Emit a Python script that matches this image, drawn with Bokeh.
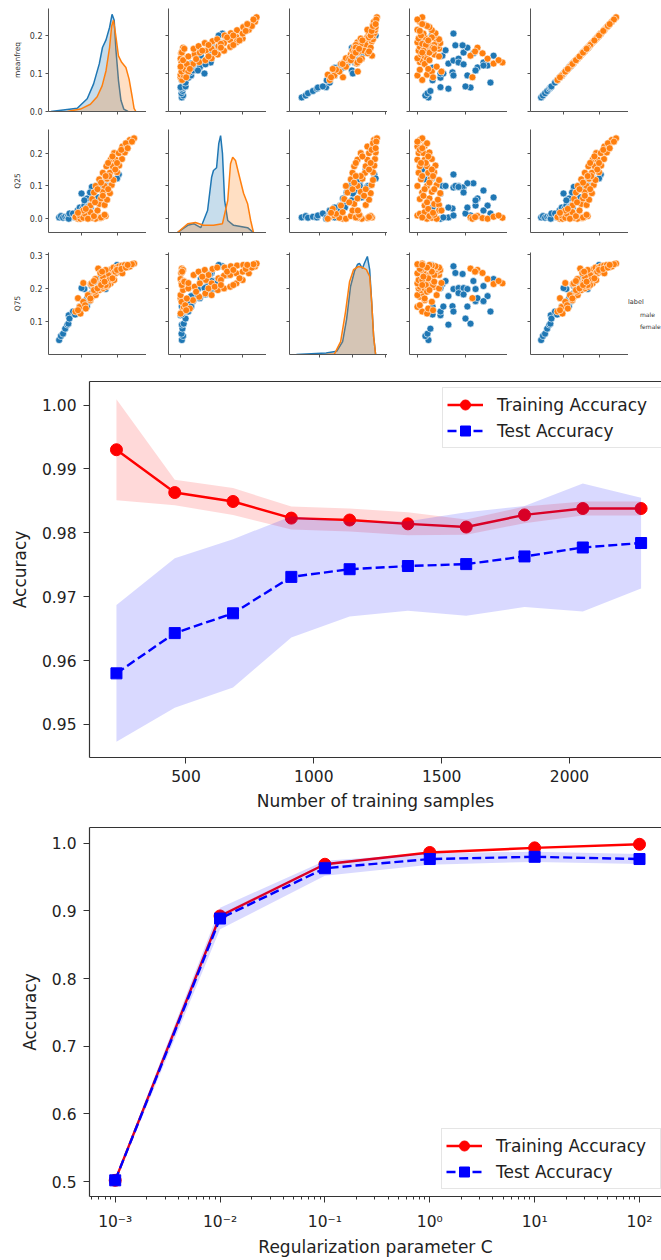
from bokeh.plotting import figure
from bokeh.layouts import column, row
from bokeh.models import (Range1d, FixedTicker, NumeralTickFormatter, Legend, LegendItem,
                          CustomJSTickFormatter, LinearAxis, LogAxis)
from bokeh.embed import file_html
from bokeh.resources import INLINE

FONT = "DejaVu Sans"
BLUE = "#1f77b4"
ORANGE = "#ff7f0e"
SPINE = "#333333"
TEXT = "#222222"

# ---------------- pair plot: records ----------------
male_meanfreq = [0.037, 0.042, 0.048, 0.054, 0.060, 0.063, 0.064, 0.066, 0.076, 0.082,
                 0.089, 0.095, 0.100, 0.103, 0.108, 0.116, 0.121, 0.126, 0.129, 0.134,
                 0.139, 0.147, 0.147, 0.153, 0.155, 0.161, 0.168, 0.174, 0.174, 0.108,
                 0.121, 0.095, 0.100, 0.115, 0.205, 0.200, 0.129, 0.124, 0.180, 0.190, 0.170]
male_q25 = [0.004, 0.008, 0.003, 0.006, 0.004, 0.010, 0.000, 0.016, 0.016, 0.004,
            0.025, 0.034, 0.004, 0.031, 0.040, 0.062, 0.040, 0.034, 0.086, 0.095,
            0.100, 0.100, 0.065, 0.108, 0.095, 0.100, 0.108, 0.100, 0.095, 0.056,
            0.025, 0.010, 0.077, 0.034, 0.135, 0.123, 0.097, 0.080, 0.130, 0.150, 0.120]
male_q75 = [0.046, 0.058, 0.065, 0.080, 0.092, 0.095, 0.120, 0.110, 0.131, 0.122,
            0.131, 0.146, 0.146, 0.147, 0.162, 0.171, 0.177, 0.177, 0.207, 0.198,
            0.201, 0.213, 0.228, 0.222, 0.201, 0.222, 0.198, 0.246, 0.243, 0.198,
            0.162, 0.131, 0.201, 0.146, 0.266, 0.270, 0.186, 0.182, 0.230, 0.240, 0.220]
male_iqr = [0.046, 0.033, 0.042, 0.054, 0.129, 0.221, 0.096, 0.200, 0.304, 0.063,
            0.096, 0.208, 0.108, 0.146, 0.242, 0.250, 0.292, 0.129, 0.275, 0.150,
            0.171, 0.104, 0.317, 0.233, 0.192, 0.117, 0.208, 0.158, 0.188, 0.242,
            0.275, 0.150, 0.096, 0.063, 0.150, 0.060, 0.171, 0.192, 0.040, 0.020, 0.030]

female_meanfreq = [0.125, 0.150, 0.165, 0.130, 0.155, 0.172, 0.135, 0.160, 0.180, 0.140,
                   0.165, 0.185, 0.150, 0.172, 0.190, 0.160, 0.180, 0.200, 0.170, 0.188,
                   0.206, 0.182, 0.196, 0.214, 0.192, 0.205, 0.222, 0.215, 0.228, 0.236, 0.248,
                   0.145, 0.175, 0.155, 0.178, 0.195, 0.175, 0.200, 0.187, 0.212, 0.225,
                   0.242, 0.138, 0.160, 0.168, 0.230,
                   0.147, 0.168, 0.153, 0.139, 0.126, 0.129, 0.135, 0.090, 0.158,
                   0.083, 0.097, 0.095, 0.105, 0.110, 0.118, 0.125, 0.135, 0.145, 0.155,
                   0.165, 0.105, 0.112, 0.090]
female_q25 = [0.040, 0.045, 0.042, 0.060, 0.062, 0.058, 0.080, 0.082, 0.078, 0.100,
              0.100, 0.103, 0.120, 0.122, 0.118, 0.140, 0.140, 0.142, 0.160, 0.160,
              0.162, 0.180, 0.180, 0.182, 0.200, 0.200, 0.202, 0.220, 0.222, 0.240, 0.245,
              0.090, 0.090, 0.110, 0.130, 0.150, 0.170, 0.170, 0.190, 0.210, 0.230,
              0.235, 0.050, 0.070, 0.130, 0.215,
              0.004, 0.008, 0.002, 0.000, 0.006, 0.003, 0.010, 0.000, 0.005,
              0.005, 0.000, 0.010, 0.003, 0.015, 0.000, 0.020, 0.008, 0.025, 0.004,
              0.012, 0.025, 0.030, 0.018]
female_q75 = [0.165, 0.205, 0.240, 0.175, 0.215, 0.250, 0.185, 0.225, 0.255, 0.180,
              0.215, 0.258, 0.195, 0.230, 0.262, 0.200, 0.238, 0.262, 0.205, 0.240,
              0.266, 0.215, 0.245, 0.268, 0.225, 0.250, 0.270, 0.245, 0.262, 0.265, 0.274,
              0.200, 0.240, 0.205, 0.225, 0.250, 0.210, 0.255, 0.230, 0.258, 0.262,
              0.272, 0.190, 0.235, 0.210, 0.270,
              0.259, 0.255, 0.246, 0.228, 0.213, 0.215, 0.222, 0.171, 0.250,
              0.131, 0.125, 0.145, 0.160, 0.150, 0.180, 0.170, 0.195, 0.200, 0.210,
              0.220, 0.216, 0.140, 0.135]
female_iqr = [0.030, 0.070, 0.090, 0.010, 0.050, 0.085, 0.020, 0.060, 0.095, 0.000,
              0.040, 0.080, 0.015, 0.055, 0.090, 0.005, 0.045, 0.070, 0.010, 0.040,
              0.075, 0.000, 0.030, 0.060, 0.005, 0.025, 0.050, 0.000, 0.030, 0.010, 0.020,
              0.030, 0.070, 0.050, 0.020, 0.060, 0.035, 0.015, 0.045, 0.010, 0.040,
              0.000, 0.040, 0.025, 0.065, 0.020,
              0.221, 0.250, 0.271, 0.292, 0.317, 0.354, 0.338, 0.229, 0.240,
              0.020, 0.040, 0.000, 0.060, 0.010, 0.080, 0.030, 0.050, 0.090, 0.020,
              0.070, 0.100, 0.045, 0.065]

# KDE curves (value, density)
kde_meanfreq_male_x = [0.014, 0.088, 0.116, 0.134, 0.150, 0.159, 0.169, 0.179, 0.186, 0.192,
                       0.197, 0.204, 0.211, 0.219, 0.231]
kde_meanfreq_male_d = [0.0, 0.8, 3.2, 6.9, 11.9, 16.0, 17.9, 21.0, 24.3, 22.8,
                       15.3, 7.8, 2.8, 0.6, 0.0]
kde_meanfreq_female_x = [0.060, 0.097, 0.125, 0.144, 0.158, 0.169, 0.179, 0.185, 0.190, 0.196,
                         0.204, 0.213, 0.225, 0.234, 0.243, 0.248, 0.253]
kde_meanfreq_female_d = [0.0, 0.6, 1.8, 3.7, 6.4, 10.2, 16.0, 21.4, 22.8, 19.3,
                         13.9, 12.3, 11.0, 8.1, 3.5, 0.8, 0.0]
kde_q25_male_x = [-0.010, 0.023, 0.042, 0.065, 0.087, 0.100, 0.106, 0.116, 0.123, 0.129,
                  0.135, 0.142, 0.152, 0.171, 0.216, 0.235]
kde_q25_male_d = [0.0, 1.8, 2.2, 1.2, 5.5, 13.8, 15.5, 16.2, 22.2, 24.2,
                  19.8, 8.0, 3.0, 1.8, 1.2, 0.0]
kde_q25_female_x = [-0.010, 0.023, 0.048, 0.074, 0.106, 0.135, 0.152, 0.161, 0.168, 0.177,
                    0.187, 0.203, 0.216, 0.226, 0.235]
kde_q25_female_d = [0.0, 2.2, 2.5, 1.8, 1.8, 2.2, 8.0, 17.2, 18.8, 18.0,
                    14.8, 9.8, 7.2, 3.0, 0.0]
kde_q75_male_x = [0.030, 0.120, 0.152, 0.170, 0.182, 0.194, 0.206, 0.215, 0.221, 0.230,
                  0.236, 0.245, 0.252, 0.258, 0.264, 0.270]
kde_q75_male_d = [0.0, 0.4, 0.8, 3.2, 8.8, 17.0, 20.8, 22.5, 22.8, 21.5,
                  22.8, 24.5, 21.2, 13.2, 4.5, 0.0]
kde_q75_female_x = [0.120, 0.145, 0.164, 0.179, 0.191, 0.203, 0.218, 0.230, 0.242, 0.252,
                    0.258, 0.264, 0.270]
kde_q75_female_d = [0.0, 0.1, 3.2, 10.8, 18.2, 21.2, 22.0, 21.8, 21.2, 19.5,
                    13.2, 4.5, 0.0]

# ---------------- learning curve ----------------
train_sizes = [228, 456, 684, 912, 1140, 1368, 1596, 1824, 2052, 2280]
train_mean = [0.9930, 0.9863, 0.9849, 0.9823, 0.9820, 0.9814, 0.9809, 0.9828, 0.9838, 0.9838]
train_std = [0.0079, 0.0020, 0.0021, 0.0018, 0.0018, 0.0018, 0.0012, 0.0013, 0.0011, 0.0011]
test_mean = [0.9580, 0.9643, 0.9674, 0.9731, 0.9743, 0.9748, 0.9751, 0.9763, 0.9777, 0.9784]
test_std = [0.0107, 0.0117, 0.0116, 0.0095, 0.0074, 0.0070, 0.0081, 0.0079, 0.0100, 0.0071]

# ---------------- validation curve ----------------
param_C = [0.001, 0.01, 0.1, 1.0, 10.0, 100.0]
val_train_mean = [0.502, 0.8926, 0.9690, 0.9864, 0.9932, 0.9985]
val_train_std = [0.002, 0.003, 0.002, 0.001, 0.001, 0.0005]
val_test_mean = [0.502, 0.8888, 0.9631, 0.9767, 0.9800, 0.9767]
val_test_std = [0.003, 0.016, 0.011, 0.0085, 0.0075, 0.0075]

lc_x_ticks = [500, 1000, 1500, 2000]
lc_y_ticks = [0.95, 0.96, 0.97, 0.98, 0.99, 1.00]
vc_x_ticks = [1e-3, 1e-2, 1e-1, 1e0, 1e1, 1e2]
vc_y_ticks = [0.5, 0.6, 0.7, 0.8, 0.9, 1.0]

# ---------------- pair plot build ----------------
pair_data = {
    "male": {"meanfreq": male_meanfreq, "Q25": male_q25, "Q75": male_q75,
             "IQR": male_iqr, "centroid": male_meanfreq},
    "female": {"meanfreq": female_meanfreq, "Q25": female_q25, "Q75": female_q75,
               "IQR": female_iqr, "centroid": female_meanfreq},
}
col_vars = ["meanfreq", "Q25", "Q75", "IQR", "centroid"]
row_vars = ["meanfreq", "Q25", "Q75"]
x_lims = {"meanfreq": (0.007, 0.283), "Q25": (-0.039, 0.277), "Q75": (0.009, 0.306),
          "IQR": (-0.033, 0.375), "centroid": (0.007, 0.283)}
y_lims = {"meanfreq": (0.0, 0.271), "Q25": (-0.042, 0.272), "Q75": (0.003, 0.307)}
x_tick_map = {"meanfreq": [0.1, 0.2], "Q25": [0.0, 0.2], "Q75": [0.1, 0.2, 0.3],
              "IQR": [0.0, 0.2], "centroid": [0.1, 0.2]}
y_tick_map = {"meanfreq": [0.0, 0.1, 0.2], "Q25": [0.0, 0.1, 0.2], "Q75": [0.1, 0.2, 0.3]}
kde_curves = {
    "meanfreq": [(kde_meanfreq_male_x, kde_meanfreq_male_d, BLUE),
                 (kde_meanfreq_female_x, kde_meanfreq_female_d, ORANGE)],
    "Q25": [(kde_q25_male_x, kde_q25_male_d, BLUE), (kde_q25_female_x, kde_q25_female_d, ORANGE)],
    "Q75": [(kde_q75_male_x, kde_q75_male_d, BLUE), (kde_q75_female_x, kde_q75_female_d, ORANGE)],
}
kde_top = {"meanfreq": 25.75, "Q25": 25.75, "Q75": 25.5}
sex_labels = {"male": "male", "female": "female"}

col_w = [146, 120, 121, 120, 121]
col_left = [48, 22, 23, 22, 23]
row_h = [129, 122, 113]
row_top = [8, 0, 1]
row_bottom = [18, 19, 10]


def pair_panel(ri, ci):
    rv, cv = row_vars[ri], col_vars[ci]
    p = figure(width=col_w[ci], height=row_h[ri], min_border_left=col_left[ci],
               min_border_right=0, min_border_top=row_top[ri], min_border_bottom=row_bottom[ri],
               x_range=Range1d(*x_lims[cv]), y_range=Range1d(*y_lims[rv]),
               toolbar_location=None, output_backend="svg")
    p.outline_line_color = None
    p.grid.visible = False
    for ax in (p.xaxis[0], p.yaxis[0]):
        ax.axis_line_color = "#555555"
        ax.major_tick_line_color = "#555555"
        ax.major_tick_out = 3
        ax.major_tick_in = 0
        ax.minor_tick_line_color = None
        ax.major_label_text_font = FONT
    p.xaxis.ticker = FixedTicker(ticks=x_tick_map[cv])
    p.xaxis.major_label_text_color = None
    p.xaxis.major_label_text_font_size = "0px"
    p.xaxis.major_label_standoff = 0
    p.yaxis.ticker = FixedTicker(ticks=y_tick_map[rv])
    if ci == 0:
        p.yaxis.formatter = NumeralTickFormatter(format="0.0")
        p.yaxis.major_label_text_font_size = "8px"
        p.yaxis.major_label_text_color = "#333333"
        p.yaxis.major_label_standoff = 3
        p.yaxis.axis_label = rv
        p.yaxis.axis_label_text_font = FONT
        p.yaxis.axis_label_text_font_size = "7.5px"
        p.yaxis.axis_label_text_font_style = "normal"
        p.yaxis.axis_label_text_color = "#333333"
        p.yaxis.axis_label_standoff = 5
    else:
        p.yaxis.major_label_text_color = None
        p.yaxis.major_label_text_font_size = "0px"
        p.yaxis.major_label_standoff = 0
    if ri == ci:
        p.extra_y_ranges = {"kde": Range1d(0, kde_top[rv])}
        for xs, ds, colr in kde_curves[rv]:
            p.varea(x=xs, y1=[0.0] * len(xs), y2=ds, fill_color=colr, fill_alpha=0.25,
                    y_range_name="kde")
            p.line(xs, ds, line_color=colr, line_width=1.5, y_range_name="kde")
    else:
        for sex, colr in (("male", BLUE), ("female", ORANGE)):
            p.scatter(pair_data[sex][cv], pair_data[sex][rv], size=7, fill_color=colr,
                      line_color="white", line_width=0.6)
    return p


pair_rows = []
for ri in range(3):
    panels = [pair_panel(ri, ci) for ci in range(5)]
    if ri == 2:
        lg = figure(width=33, height=row_h[2], min_border_left=0, min_border_right=0,
                    min_border_top=row_top[2], min_border_bottom=row_bottom[2],
                    x_range=Range1d(0, 1), y_range=Range1d(0, 1), x_axis_type=None,
                    y_axis_type=None, toolbar_location=None, output_backend="svg")
        lg.outline_line_color = None
        items = []
        for sex, colr in (("male", BLUE), ("female", ORANGE)):
            r = lg.scatter(x=[], y=[], size=6, fill_color=colr, line_color=colr, line_width=0.5)
            items.append(LegendItem(label=sex_labels[sex], renderers=[r]))
        leg = Legend(items=items, title="label", location=(0, 22), padding=0, spacing=0, margin=0,
                     glyph_width=11, glyph_height=12, label_height=12, label_standoff=1,
                     title_standoff=2, title_text_font=FONT, title_text_font_size="6.5px",
                     title_text_font_style="normal", title_text_color="#333333",
                     label_text_font=FONT, label_text_font_size="6px",
                     label_text_color="#333333", background_fill_alpha=0,
                     border_line_color=None)
        lg.add_layout(leg)
        panels.append(lg)
    pair_rows.append(row(*panels))


# ---------------- main charts helpers ----------------
def style_main(p):
    p.outline_line_color = None
    p.grid.visible = False
    for ax in p.axis:
        ax.axis_line_color = SPINE
        ax.axis_line_width = 1.2
        ax.major_tick_line_color = SPINE
        ax.major_tick_out = 6
        ax.major_tick_in = 0
        ax.minor_tick_line_color = None
        ax.major_label_text_font = FONT
        ax.major_label_text_font_size = "15.5px"
        ax.major_label_text_color = TEXT
        ax.axis_label_text_font = FONT
        ax.axis_label_text_font_size = "17px"
        ax.axis_label_text_font_style = "normal"
        ax.axis_label_text_color = TEXT
    p.yaxis.major_label_standoff = 7
    p.yaxis.axis_label_standoff = 9


def top_spine(p, log=False):
    cls = LogAxis if log else LinearAxis
    ax = cls(ticker=FixedTicker(ticks=[]), axis_line_color=SPINE, axis_line_width=1.2,
             major_tick_line_color=None, minor_tick_line_color=None,
             major_label_text_color=None, major_label_text_font_size="0px",
             major_label_standoff=0)
    p.add_layout(ax, "above")


def main_legend(p, items, loc):
    leg = Legend(items=items, location=loc, padding=4, spacing=1, margin=0,
                 glyph_width=36, glyph_height=25, label_height=25, label_width=160,
                 label_standoff=14,
                 label_text_font=FONT, label_text_font_size="17px", label_text_color=TEXT,
                 border_line_color="#cccccc", border_line_width=1,
                 background_fill_color="white", background_fill_alpha=0.8)
    p.add_layout(leg)


def plus(a, b, sign):
    return [m + sign * s for m, s in zip(a, b)]


# ---------------- learning curve ----------------
lc = figure(width=661, height=450, min_border_left=89, min_border_right=0,
            min_border_top=17, min_border_bottom=57,
            x_range=Range1d(122.6, 2359.8), y_range=Range1d(0.94483, 1.00368),
            toolbar_location=None, output_backend="svg")
style_main(lc)
lx = lc.below[0]
lx.ticker = FixedTicker(ticks=lc_x_ticks)
lx.major_label_standoff = 6
lx.axis_label_standoff = 6
lx.axis_label = "Number of training samples"
lc.yaxis.ticker = FixedTicker(ticks=lc_y_ticks)
lc.yaxis.formatter = NumeralTickFormatter(format="0.00")
lc.yaxis.axis_label = "Accuracy"
top_spine(lc)

l_tr = lc.line(train_sizes, train_mean, line_color="red", line_width=2.4)
s_tr = lc.scatter(train_sizes, train_mean, marker="circle", size=12, color="red")
lc.varea(x=train_sizes, y1=plus(train_mean, train_std, -1), y2=plus(train_mean, train_std, 1),
         fill_color="red", fill_alpha=0.15)
l_te = lc.line(train_sizes, test_mean, line_color="blue", line_width=2.4, line_dash="9 4")
s_te = lc.scatter(train_sizes, test_mean, marker="square", size=11, color="blue")
lc.varea(x=train_sizes, y1=plus(test_mean, test_std, -1), y2=plus(test_mean, test_std, 1),
         fill_color="blue", fill_alpha=0.15)
main_legend(lc, [LegendItem(label="Training Accuracy", renderers=[l_tr, s_tr]),
                 LegendItem(label="Test Accuracy", renderers=[l_te, s_te])], (353, 309))

# ---------------- validation curve ----------------
vc = figure(width=661, height=445, min_border_left=89, min_border_right=0,
            min_border_top=13, min_border_bottom=58, x_axis_type="log",
            x_range=Range1d(10 ** -3.245, 10 ** 2.2098), y_range=Range1d(0.4781, 1.0233),
            toolbar_location=None, output_backend="svg")
style_main(vc)
vx = vc.below[0]
minor_c = [k * 10.0 ** e for e in range(-4, 3) for k in range(2, 10)]
vx.ticker = FixedTicker(ticks=vc_x_ticks, minor_ticks=minor_c)
vx.formatter = CustomJSTickFormatter(code=r"""
const sup = {"-": "\u207b", "0": "\u2070", "1": "\u00b9", "2": "\u00b2", "3": "\u00b3",
             "4": "\u2074", "5": "\u2075", "6": "\u2076", "7": "\u2077", "8": "\u2078", "9": "\u2079"};
const e = Math.round(Math.log10(tick));
return "10" + String(e).split("").map(c => sup[c]).join("");
""")
vx.minor_tick_line_color = SPINE
vx.minor_tick_out = 3
vx.minor_tick_in = 0
vx.major_label_standoff = 10
vx.axis_label_standoff = 3
vx.axis_label = "Regularization parameter C"
vc.yaxis.ticker = FixedTicker(ticks=vc_y_ticks)
vc.yaxis.formatter = NumeralTickFormatter(format="0.0")
vc.yaxis.axis_label = "Accuracy"
top_spine(vc, log=True)

v_tr = vc.line(param_C, val_train_mean, line_color="red", line_width=2.4)
vs_tr = vc.scatter(param_C, val_train_mean, marker="circle", size=12, color="red")
vc.varea(x=param_C, y1=plus(val_train_mean, val_train_std, -1),
         y2=plus(val_train_mean, val_train_std, 1), fill_color="red", fill_alpha=0.15)
v_te = vc.line(param_C, val_test_mean, line_color="blue", line_width=2.4, line_dash="9 4")
vs_te = vc.scatter(param_C, val_test_mean, marker="square", size=11, color="blue")
vc.varea(x=param_C, y1=plus(val_test_mean, val_test_std, -1),
         y2=plus(val_test_mean, val_test_std, 1), fill_color="blue", fill_alpha=0.15)
main_legend(vc, [LegendItem(label="Training Accuracy", renderers=[v_tr, vs_tr]),
                 LegendItem(label="Test Accuracy", renderers=[v_te, vs_te])], (352, 7))

layout = column(*pair_rows, lc, vc)
open("out.html", "w", encoding="utf-8").write(file_html(layout, INLINE))
